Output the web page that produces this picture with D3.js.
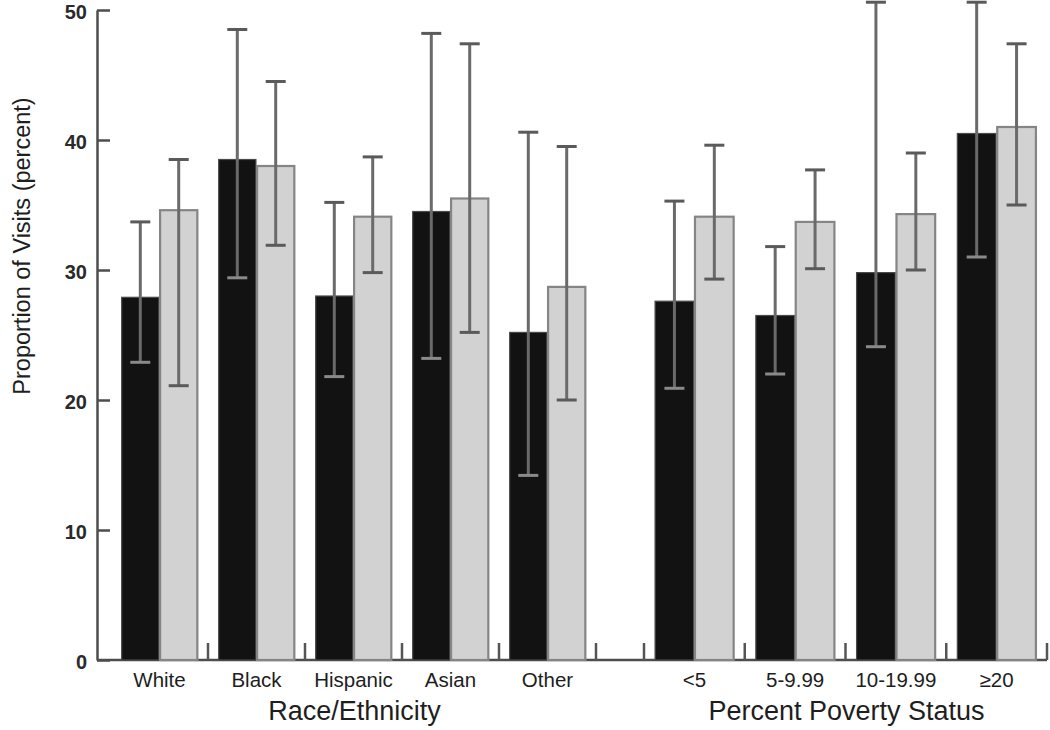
<!DOCTYPE html>
<html>
<head>
<meta charset="utf-8">
<script src="https://cdn.jsdelivr.net/npm/d3@7"></script>
<style>
  html, body { margin: 0; padding: 0; background: #fff; }
  svg { display: block; font-family: "Liberation Sans", Arial, sans-serif; }
</style>
</head>
<body>
<svg id="chart" width="1050" height="730"></svg>
<script>
// ---- data ----
const raceCats = ["White", "Black", "Hispanic", "Asian", "Other"];
const povertyCats = ["<5", "5-9.99", "10-19.99", "\u226520"];
const seriesNames = ["dark", "light"];

const raceDark     = [27.9, 38.5, 28.0, 34.5, 25.2];
const raceDarkLo   = [22.9, 29.4, 21.8, 23.2, 14.2];
const raceDarkHi   = [33.7, 48.5, 35.2, 48.2, 40.6];
const raceLight    = [34.6, 38.0, 34.1, 35.5, 28.7];
const raceLightLo  = [21.1, 31.9, 29.8, 25.2, 20.0];
const raceLightHi  = [38.5, 44.5, 38.7, 47.4, 39.5];

const povDark      = [27.6, 26.5, 29.8, 40.5];
const povDarkLo    = [20.9, 22.0, 24.1, 31.0];
const povDarkHi    = [35.3, 31.8, 50.6, 50.6];
const povLight     = [34.1, 33.7, 34.3, 41.0];
const povLightLo   = [29.3, 30.1, 30.0, 35.0];
const povLightHi   = [39.6, 37.7, 39.0, 47.4];

const yTicks = [0, 10, 20, 30, 40, 50];
const yTitle = "Proportion of Visits (percent)";
const groupTitles = ["Race/Ethnicity", "Percent Poverty Status"];

// ---- layout ----
const svg = d3.select("#chart");
const axisX = 97, baseY = 660, topY = 10;
const y = d3.scaleLinear().domain([0, 50]).range([baseY, topY]);

function build(cats, dark, darkLo, darkHi, light, lightLo, lightHi) {
  return cats.map((c, i) => ({
    cat: c,
    vals: [
      { s: "dark", v: dark[i], lo: darkLo[i], hi: darkHi[i] },
      { s: "light", v: light[i], lo: lightLo[i], hi: lightHi[i] }
    ]
  }));
}

const groups = [
  { data: build(raceCats, raceDark, raceDarkLo, raceDarkHi, raceLight, raceLightLo, raceLightHi),
    range: [111, 596], title: groupTitles[0], leftTick: false },
  { data: build(povertyCats, povDark, povDarkLo, povDarkHi, povLight, povLightLo, povLightHi),
    range: [644, 1047], title: groupTitles[1], leftTick: true }
];

const fills = { dark: "#121212", light: "#d2d2d2" };
const strokes = { dark: "#4a4a4a", light: "#858585" };

// baseline
svg.append("line")
  .attr("x1", axisX).attr("x2", 1047)
  .attr("y1", baseY).attr("y2", baseY)
  .attr("stroke", "#4d4d4d").attr("stroke-width", 2.5);

groups.forEach(g => {
  const x0 = d3.scaleBand().domain(g.data.map(d => d.cat)).range(g.range)
    .paddingInner(0.22).paddingOuter(0.11);
  const x1 = d3.scaleBand().domain(seriesNames).range([0, x0.bandwidth()]).paddingInner(0.03);
  const step = x0.step();

  const cat = svg.append("g").selectAll("g").data(g.data).join("g")
    .attr("transform", d => `translate(${x0(d.cat)},0)`);

  cat.selectAll("rect").data(d => d.vals).join("rect")
    .attr("x", d => x1(d.s))
    .attr("width", x1.bandwidth())
    .attr("y", d => y(d.v))
    .attr("height", d => y(0) - y(d.v))
    .attr("fill", d => fills[d.s])
    .attr("stroke", d => strokes[d.s])
    .attr("stroke-width", d => d.s === "light" ? 2.2 : 1.2);

  const eb = cat.selectAll("g.eb").data(d => d.vals).join("g").attr("class", "eb")
    .attr("transform", d => `translate(${x1(d.s) + x1.bandwidth() / 2},0)`);
  eb.append("line").attr("x1", 0).attr("x2", 0)
    .attr("y1", d => y(d.lo)).attr("y2", d => y(d.hi))
    .attr("stroke", "#6a6a6a").attr("stroke-width", 3);
  eb.append("line").attr("x1", -10).attr("x2", 10)
    .attr("y1", d => y(d.hi)).attr("y2", d => y(d.hi))
    .attr("stroke", "#5a5a5a").attr("stroke-width", 3);
  eb.append("line").attr("x1", -10).attr("x2", 10)
    .attr("y1", d => y(d.lo)).attr("y2", d => y(d.lo))
    .attr("stroke", d => d.s === "dark" ? "#8a8a8a" : "#5a5a5a").attr("stroke-width", 3);

  // separator ticks at band boundaries
  const bounds = g.data.map(d => x0(d.cat) - x0.step() * x0.paddingOuter() + step);
  if (g.leftTick) bounds.unshift(g.range[0]);
  svg.append("g").selectAll("line").data(bounds).join("line")
    .attr("x1", d => d).attr("x2", d => d)
    .attr("y1", baseY).attr("y2", baseY - 17)
    .attr("stroke", "#555").attr("stroke-width", 2.5);

  // category labels
  const axis = d3.axisBottom(x0).tickSize(0).tickPadding(12);
  const ag = svg.append("g").attr("transform", `translate(0,${baseY})`).call(axis);
  ag.select(".domain").remove();
  ag.selectAll("text").attr("font-size", 20.5).attr("fill", "#1e1e1e")
    .attr("font-family", "'Liberation Sans', Arial, sans-serif");

  svg.append("text")
    .attr("x", (g.range[0] + g.range[1]) / 2 + 1)
    .attr("y", 720)
    .attr("text-anchor", "middle")
    .attr("font-size", 27)
    .attr("fill", "#1e1e1e")
    .text(g.title);
});

// y axis
const yAxis = d3.axisLeft(y).tickValues(yTicks).tickSize(-13).tickSizeOuter(0).tickPadding(10);
const yg = svg.append("g").attr("transform", `translate(${axisX},0)`).call(yAxis);
yg.select(".domain").attr("stroke", "#4d4d4d").attr("stroke-width", 2.5);
yg.selectAll(".tick line").attr("stroke", "#4d4d4d").attr("stroke-width", 2.5);
yg.selectAll("text").attr("font-size", 20).attr("font-weight", "bold").attr("fill", "#2a2a2a")
  .attr("dy", "0.4em")
  .attr("font-family", "'Liberation Sans', Arial, sans-serif");

svg.append("text")
  .attr("transform", "translate(30,246) rotate(-90)")
  .attr("text-anchor", "middle")
  .attr("font-size", 23.5)
  .attr("fill", "#1e1e1e")
  .text(yTitle);
</script>
</body>
</html>
